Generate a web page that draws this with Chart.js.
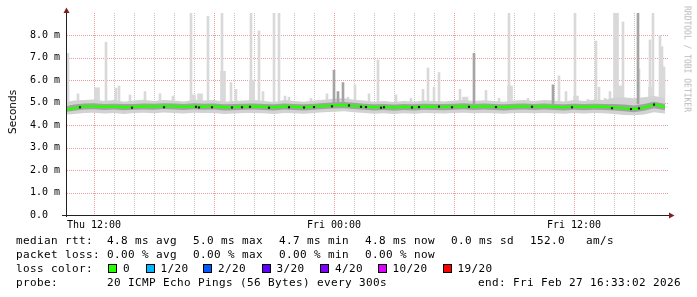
<!DOCTYPE html>
<html lang="en">
<head>
<meta charset="UTF-8">
<title>Smokeping - median rtt</title>
<script src="https://cdn.jsdelivr.net/npm/chart.js"></script>
<style>
    body { margin: 0; background: #fff; }
    .graph { position: relative; width: 697px; height: 297px; font-family: 'DejaVu Sans Mono', monospace; overflow: hidden; }
    .graph canvas { position: absolute; left: 0; top: 0; }
    .txt { position: absolute; font-size: 11px; letter-spacing: 0.38px; line-height: 14px; white-space: pre; color: #000; }
    .box { position: absolute; width: 9px; height: 9px; box-sizing: border-box; border: 1px solid #000; }
    .unit { position: absolute; left: 11.5px; top: 112px; font-family: 'DejaVu Sans', sans-serif; font-size: 10.5px;
            white-space: pre; transform: translate(-50%, -50%) rotate(-90deg); color: #000; }
    .credit { position: absolute; left: 687px; top: 59px; font-size: 8px; white-space: pre; color: #b8b8b8;
              transform: translate(-50%, -50%) rotate(90deg); }
</style>
</head>
<body>
<div class="graph">
    <canvas id="rttChart" width="697" height="297"></canvas>
    <span class="unit">Seconds</span>
    <span class="credit">RRDTOOL / TOBI OETIKER</span>

    <span class="txt" style="left:16px;top:234px">median rtt:</span>
    <span class="txt" style="left:107px;top:234px">4.8 ms avg</span>
    <span class="txt" style="left:193px;top:234px">5.0 ms max</span>
    <span class="txt" style="left:279px;top:234px">4.7 ms min</span>
    <span class="txt" style="left:365px;top:234px">4.8 ms now</span>
    <span class="txt" style="left:451px;top:234px">0.0 ms sd</span>
    <span class="txt" style="left:530px;top:234px">152.0   am/s</span>

    <span class="txt" style="left:16px;top:248px">packet loss:</span>
    <span class="txt" style="left:107px;top:248px">0.00 % avg</span>
    <span class="txt" style="left:193px;top:248px">0.00 % max</span>
    <span class="txt" style="left:279px;top:248px">0.00 % min</span>
    <span class="txt" style="left:365px;top:248px">0.00 % now</span>

    <span class="txt" style="left:16px;top:262px">loss color:</span>
    <div id="lossLegend"></div>

    <span class="txt" style="left:16px;top:276px">probe:</span>
    <span class="txt" style="left:107px;top:276px">20 ICMP Echo Pings (56 Bytes) every 300s</span>
    <span class="txt" style="left:478px;top:276px">end: Fri Feb 27 16:33:02 2026</span>
</div>

<script>
// time axis is hours since Thu 00:00
const tickLabelHours = [12, 24, 36];
const tickLabelText = ['Thu 12:00', 'Fri 00:00', 'Fri 12:00'];

// 30 minute samples of the smoke band and the median
const bandHours = [10.65, 11.0, 11.5, 12.0, 12.5, 13.0, 13.5, 14.0, 14.5, 15.0, 15.5, 16.0, 16.5, 17.0, 17.5,
    18.0, 18.5, 19.0, 19.5, 20.0, 20.5, 21.0, 21.5, 22.0, 22.5, 23.0, 23.5, 24.0, 24.5, 25.0, 25.5,
    26.0, 26.5, 27.0, 27.5, 28.0, 28.5, 29.0, 29.5, 30.0, 30.5, 31.0, 31.5, 32.0, 32.5, 33.0, 33.5,
    34.0, 34.5, 35.0, 35.5, 36.0, 36.5, 37.0, 37.5, 38.0, 38.5, 39.0, 39.5, 40.0, 40.5, 40.55];
const outerHi = [5.05, 5.10, 5.12, 5.15, 5.08, 5.12, 5.05, 5.10, 5.14, 5.08, 5.12, 5.10, 5.06, 5.14, 5.10,
    5.12, 5.05, 5.08, 5.10, 5.12, 5.08, 5.04, 5.12, 5.08, 5.05, 5.10, 5.14, 5.18, 5.20, 5.14, 5.10,
    5.05, 5.08, 5.04, 5.08, 5.05, 5.10, 5.08, 5.06, 5.10, 5.12, 5.08, 5.11, 5.08, 5.05, 5.10, 5.12,
    5.08, 5.12, 5.10, 5.06, 5.12, 5.08, 5.14, 5.12, 5.22, 5.25, 5.20, 5.25, 5.30, 5.22, 5.20];
const outerLo = [4.48, 4.50, 4.55, 4.56, 4.52, 4.55, 4.50, 4.54, 4.56, 4.53, 4.57, 4.55, 4.52, 4.56, 4.54,
    4.55, 4.50, 4.52, 4.54, 4.55, 4.53, 4.50, 4.55, 4.53, 4.51, 4.55, 4.58, 4.60, 4.62, 4.58, 4.55,
    4.51, 4.53, 4.50, 4.53, 4.51, 4.54, 4.53, 4.52, 4.54, 4.56, 4.53, 4.55, 4.53, 4.51, 4.54, 4.55,
    4.53, 4.55, 4.53, 4.51, 4.54, 4.52, 4.54, 4.53, 4.50, 4.46, 4.44, 4.48, 4.58, 4.52, 4.52];
const innerHi = [4.86, 4.92, 4.97, 4.98, 4.95, 4.96, 4.94, 4.95, 4.97, 4.96, 4.98, 4.97, 4.95, 4.98, 4.96,
    4.97, 4.93, 4.94, 4.96, 4.97, 4.95, 4.93, 4.97, 4.95, 4.93, 4.96, 4.99, 5.02, 5.04, 5.00, 4.96,
    4.93, 4.95, 4.92, 4.95, 4.93, 4.96, 4.95, 4.94, 4.96, 4.98, 4.95, 4.97, 4.95, 4.93, 4.96, 4.97,
    4.95, 4.97, 4.95, 4.93, 4.96, 4.94, 4.96, 4.95, 4.95, 4.92, 4.88, 4.94, 5.05, 4.96, 4.96];
const innerLo = [4.60, 4.64, 4.70, 4.71, 4.68, 4.70, 4.67, 4.69, 4.70, 4.69, 4.72, 4.70, 4.68, 4.71, 4.69,
    4.70, 4.66, 4.67, 4.69, 4.70, 4.68, 4.66, 4.70, 4.68, 4.66, 4.69, 4.72, 4.74, 4.76, 4.72, 4.69,
    4.66, 4.68, 4.65, 4.68, 4.66, 4.69, 4.68, 4.67, 4.69, 4.71, 4.68, 4.70, 4.68, 4.66, 4.69, 4.70,
    4.68, 4.70, 4.68, 4.66, 4.69, 4.67, 4.69, 4.68, 4.66, 4.62, 4.58, 4.64, 4.76, 4.68, 4.68];
const medianRtt = [4.70, 4.76, 4.84, 4.85, 4.82, 4.83, 4.80, 4.82, 4.84, 4.83, 4.86, 4.84, 4.82, 4.85, 4.83,
    4.84, 4.80, 4.81, 4.83, 4.84, 4.82, 4.80, 4.84, 4.82, 4.80, 4.83, 4.86, 4.88, 4.90, 4.86, 4.83,
    4.80, 4.82, 4.79, 4.82, 4.80, 4.83, 4.82, 4.81, 4.83, 4.85, 4.82, 4.84, 4.82, 4.80, 4.83, 4.84,
    4.82, 4.84, 4.82, 4.80, 4.83, 4.81, 4.83, 4.82, 4.80, 4.76, 4.72, 4.78, 4.92, 4.82, 4.82];

// slowest pings (light smoke spikes)
const spikeBase = 4.95;
const spikeHours = [10.70, 11.20, 12.60, 13.10, 13.25, 13.80, 14.55, 15.30, 15.95, 16.85, 17.70, 18.40,
    18.85, 19.10, 19.85, 20.25, 20.45, 21.00, 21.25, 21.55, 21.75, 22.85, 23.65, 24.70, 25.05, 25.75,
    26.20, 27.10, 27.85, 28.45, 28.70, 29.00, 29.25, 30.30, 30.65, 31.60, 32.25, 32.75, 33.70, 35.25,
    35.60, 36.05, 36.70, 37.10, 37.25, 37.55, 37.80, 38.45, 39.25, 39.80, 39.95, 40.30, 40.40, 40.50];
const spikeTops = [7.20, 5.40, 7.70, 5.65, 5.75, 5.35, 5.50, 5.40, 5.30, 9.00, 8.85, 9.00,
    5.90, 5.60, 9.00, 8.20, 5.50, 9.00, 9.00, 5.30, 5.25, 5.20, 5.40, 5.25, 5.80, 5.40,
    6.90, 5.35, 5.20, 5.60, 6.55, 5.70, 6.35, 5.60, 5.25, 5.55, 5.20, 9.00, 5.20, 6.20,
    5.50, 9.00, 5.15, 7.75, 5.70, 5.20, 5.50, 8.60, 6.50, 7.80, 9.00, 8.00, 7.50, 6.60];
// wider smoke bumps
const wideHours = [12.15, 16.95, 17.30, 18.45, 19.90, 30.55, 32.80, 36.10, 38.10, 38.35, 39.85];
const wideTops = [5.67, 5.35, 5.40, 6.40, 6.00, 5.25, 5.75, 5.30, 9.00, 5.75, 5.70];
// darker spikes (several slow pings)
const darkHours = [24.00, 24.20, 24.45, 31.00, 34.95, 39.20];
const darkTops = [6.45, 5.50, 5.90, 7.20, 5.80, 9.00];

// dark specks along the median
const markHours = [11.3, 13.9, 15.5, 17.1, 17.25, 17.9, 18.9, 19.4, 19.8, 20.75, 21.75, 22.5, 23.0, 23.9,
    24.75, 25.35, 25.6, 26.35, 26.5, 27.9, 28.25, 29.25, 29.9, 30.75, 32.1, 33.9, 35.9, 37.9, 38.85, 39.25, 40.0];
const markValues = [4.80, 4.78, 4.80, 4.82, 4.79, 4.80, 4.79, 4.80, 4.82, 4.78, 4.80, 4.79, 4.81, 4.84,
    4.88, 4.82, 4.81, 4.78, 4.80, 4.79, 4.81, 4.83, 4.80, 4.82, 4.81, 4.82, 4.80, 4.76, 4.72, 4.75, 4.92];

const lossLabels = ['0', '1/20', '2/20', '3/20', '4/20', '10/20', '19/20'];
const lossColors = ['#26ff00', '#00b8ff', '#0059ff', '#5e00ff', '#7e00ff', '#dd00ff', '#ff0000'];
const lossBoxX = [108, 145.5, 203, 261.5, 320, 377.5, 442.5];

// loss colour legend
const legend = document.getElementById('lossLegend');
lossLabels.forEach((lbl, i) => {
    const box = document.createElement('div');
    box.className = 'box';
    box.style.left = lossBoxX[i] + 'px';
    box.style.top = '264px';
    box.style.background = lossColors[i];
    legend.appendChild(box);
    const t = document.createElement('span');
    t.className = 'txt';
    t.style.left = (lossBoxX[i] + 15) + 'px';
    t.style.top = '262px';
    t.textContent = lbl;
    legend.appendChild(t);
});

function pairs(xs, ys) {
    return xs.map((x, i) => ({ x: x, y: ys[i] }));
}
function bars(xs, tops) {
    return xs.map((x, i) => ({ x: x, y: [spikeBase, tops[i]] }));
}

const isWhole = v => Math.abs(v - Math.round(v)) < 1e-9;
const MGRID = '#e89c9c';
const GRID = '#c4c4c4';

// rrdtool style dotted grid (1px on / 1px off), placed on the scale ticks
const dottedGrid = {
    id: 'dottedGrid',
    beforeDatasetsDraw(chart) {
        const { ctx, chartArea: a, scales } = chart;
        ctx.save();
        scales.x.ticks.forEach(t => {
            if (!isWhole(t.value) || t.value <= scales.x.min) return;
            const px = Math.round(scales.x.getPixelForValue(t.value));
            ctx.fillStyle = Math.round(t.value) % 6 === 0 ? MGRID : GRID;
            for (let y = Math.round(a.top); y < a.bottom; y += 2) ctx.fillRect(px, y, 1, 1);
        });
        scales.y.ticks.forEach(t => {
            if (t.value <= 0 || t.value >= scales.y.max) return;
            const py = Math.round(scales.y.getPixelForValue(t.value));
            ctx.fillStyle = isWhole(t.value) ? MGRID : GRID;
            for (let x = Math.round(a.left); x < a.right; x += 2) ctx.fillRect(x, py, 1, 1);
        });
        ctx.restore();
    }
};

// axis lines and arrow heads like rrdtool
const axisArrows = {
    id: 'axisArrows',
    afterDatasetsDraw(chart) {
        const { ctx, chartArea: a } = chart;
        ctx.save();
        ctx.strokeStyle = '#212121';
        ctx.lineWidth = 1;
        ctx.beginPath();
        ctx.moveTo(62, a.bottom + 0.5);
        ctx.lineTo(670, a.bottom + 0.5);
        ctx.moveTo(a.left - 0.5, a.bottom + 2);
        ctx.lineTo(a.left - 0.5, 11);
        ctx.stroke();
        ctx.fillStyle = '#802121';
        ctx.beginPath();
        ctx.moveTo(a.left - 0.5, 7.5);
        ctx.lineTo(a.left - 3.5, 13);
        ctx.lineTo(a.left + 2.5, 13);
        ctx.closePath();
        ctx.fill();
        ctx.beginPath();
        ctx.moveTo(674.5, a.bottom + 0.5);
        ctx.lineTo(669, a.bottom - 2.5);
        ctx.lineTo(669, a.bottom + 3.5);
        ctx.closePath();
        ctx.fill();
        ctx.restore();
    }
};

const ctx = document.getElementById('rttChart').getContext('2d');
new Chart(ctx, {
    type: 'line',
    data: {
        datasets: [
            { data: pairs(bandHours, outerHi), borderWidth: 0, pointRadius: 0, fill: false, order: 6 },
            { data: pairs(bandHours, outerLo), borderWidth: 0, pointRadius: 0, fill: 0, backgroundColor: '#d2d2d2', order: 6 },
            { data: pairs(bandHours, innerHi), borderWidth: 0, pointRadius: 0, fill: false, order: 5 },
            { data: pairs(bandHours, innerLo), borderWidth: 0, pointRadius: 0, fill: 2, backgroundColor: '#a2a2a2', order: 5 },
            { type: 'bar', data: bars(spikeHours, spikeTops), backgroundColor: '#d9d9d9', barThickness: 2, grouped: false, order: 8 },
            { type: 'bar', data: bars(wideHours, wideTops), backgroundColor: '#d9d9d9', barThickness: 5, grouped: false, order: 8 },
            { type: 'bar', data: bars(darkHours, darkTops), backgroundColor: '#a4a4a4', barThickness: 2, grouped: false, order: 5.5 },
            { data: pairs(bandHours, medianRtt), borderColor: '#26ff00', borderWidth: 2.5, pointRadius: 0, fill: false, order: 2 },
            { data: pairs(markHours, markValues), showLine: false, pointStyle: 'rect', pointRadius: 1.5,
              pointBackgroundColor: '#1a1a1a', pointBorderWidth: 0, order: 1 }
        ]
    },
    options: {
        responsive: false,
        animation: false,
        devicePixelRatio: 1,
        layout: { padding: { left: 0, right: 29, top: 13, bottom: 0 } },
        plugins: { legend: { display: false }, tooltip: { enabled: false } },
        scales: {
            x: {
                type: 'linear',
                min: 10.65,
                max: 40.7,
                offset: false,
                afterFit: s => { s.height = 82; },
                ticks: {
                    stepSize: 1,
                    maxTicksLimit: 100,
                    autoSkip: false,
                    maxRotation: 0,
                    padding: 4,
                    color: '#000',
                    font: { family: 'DejaVu Sans Mono', size: 10 },
                    callback: v => {
                        const i = tickLabelHours.indexOf(v);
                        return i >= 0 ? tickLabelText[i] : '';
                    }
                },
                grid: { display: false, offset: false, drawTicks: false },
                border: { display: false }
            },
            y: {
                min: 0,
                max: 9,
                afterFit: s => { s.width = 67; },
                ticks: {
                    stepSize: 0.5,
                    padding: 7,
                    color: '#000',
                    font: { family: 'DejaVu Sans Mono', size: 10 },
                    callback: v => {
                        if (v === 0) return '0.0  ';
                        return (isWhole(v) && v < 9) ? v.toFixed(1) + ' m' : '';
                    }
                },
                grid: { display: false, drawTicks: false },
                border: { display: false }
            }
        }
    },
    plugins: [dottedGrid, axisArrows]
});
</script>
</body>
</html>
